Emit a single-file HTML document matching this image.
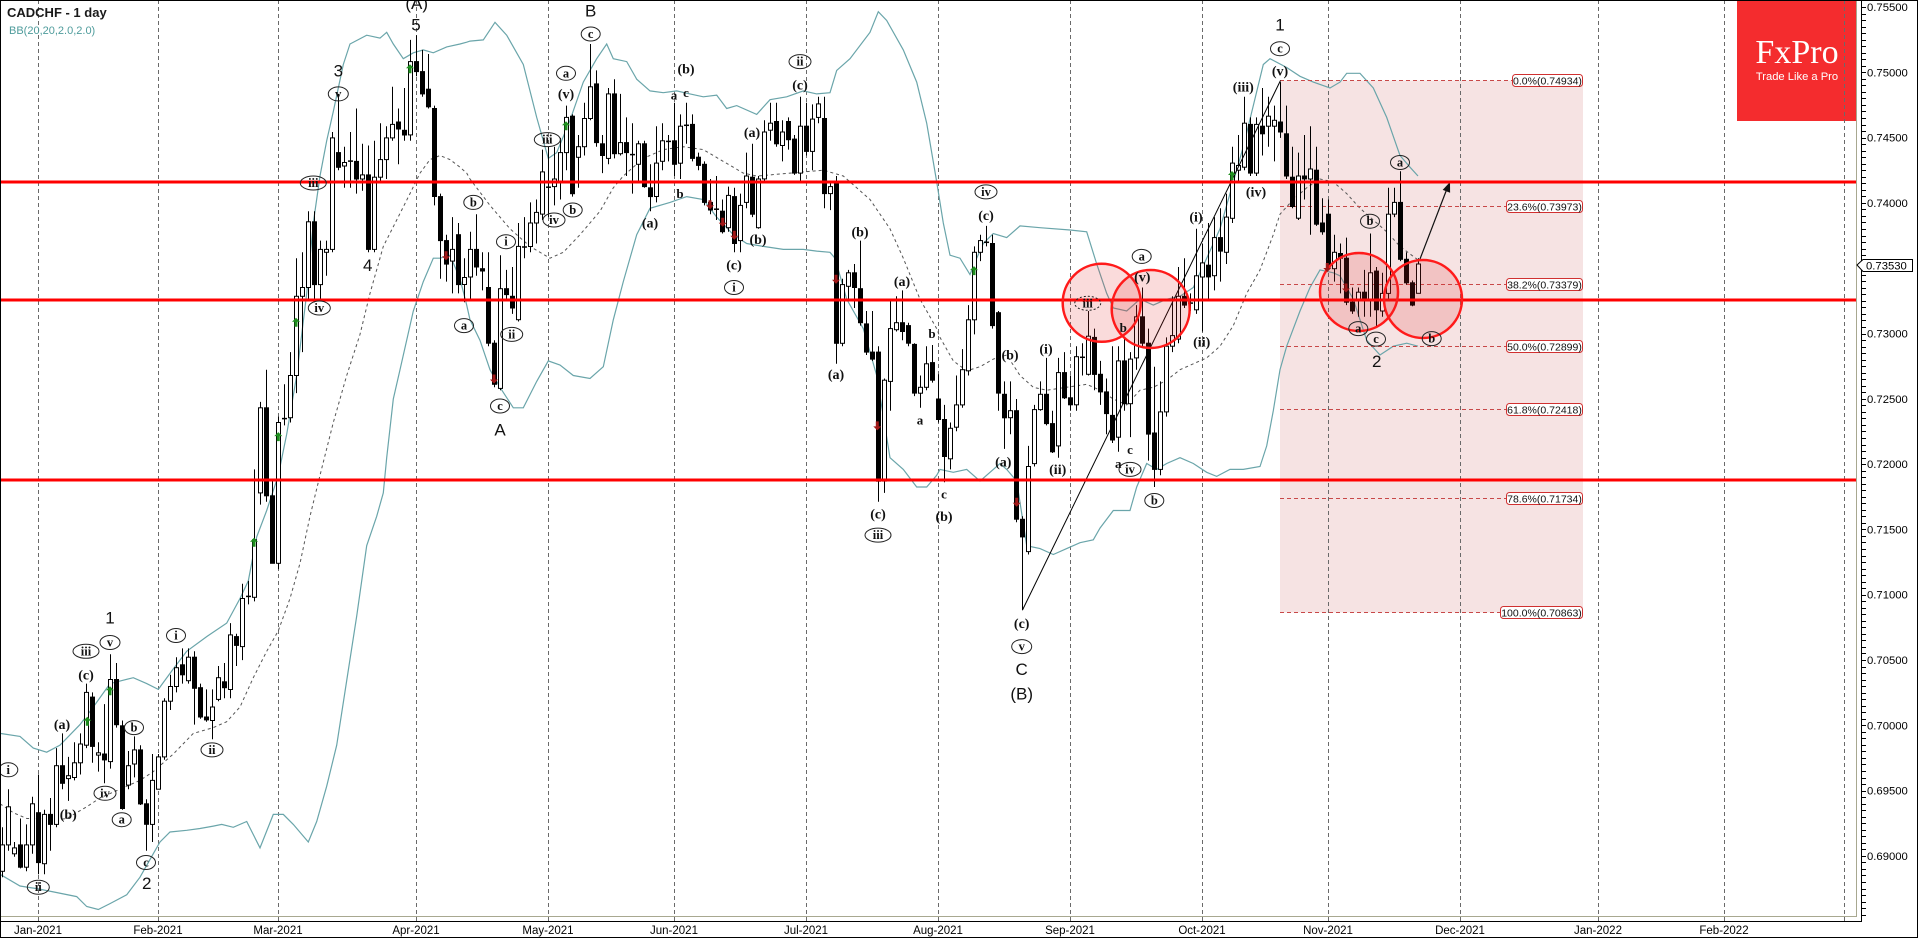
<!DOCTYPE html>
<html><head><meta charset="utf-8">
<style>
html,body{margin:0;padding:0;background:#fff;width:1918px;height:938px;overflow:hidden}
svg{display:block}
.N{font-family:"Liberation Sans",sans-serif;font-size:17px;fill:#111;text-anchor:middle}
.P{font-family:"Liberation Serif",serif;font-weight:bold;font-size:14px;fill:#111;text-anchor:middle}
.S{font-family:"Liberation Serif",serif;font-weight:bold;font-size:13px;fill:#111;text-anchor:middle}
.C text{font-family:"Liberation Serif",serif;font-weight:bold;font-size:12.5px;fill:#111;text-anchor:middle}
.C ellipse{fill:none;stroke:#222;stroke-width:1}
.ax{font-family:"Liberation Sans",sans-serif;font-size:11.3px;fill:#000}
.dt{font-family:"Liberation Sans",sans-serif;font-size:11.5px;fill:#000;text-anchor:middle}
.fl{font-family:"Liberation Sans",sans-serif;font-size:10.5px;fill:#111;text-anchor:middle}
</style></head><body>
<svg id="s" width="1918" height="938" viewBox="0 0 1918 938" xmlns="http://www.w3.org/2000/svg">
<rect x="0" y="0" width="1918" height="938" fill="#fff"/>
<!-- fib rectangle -->
<rect x="1280" y="80.5" width="303" height="532" fill="#f6e3e3"/>
<!-- logo -->
<rect x="1737" y="0" width="120" height="121" fill="#f42c2e"/>
<text x="1797" y="63" font-family="Liberation Serif, serif" font-size="34" fill="#fff" text-anchor="middle">FxPro</text>
<text x="1797" y="80" font-family="Liberation Sans, sans-serif" font-size="11.2" fill="#fff" text-anchor="middle">Trade Like a Pro</text>
<!-- grid -->
<g stroke="#6a6a6a" stroke-width="1" stroke-dasharray="4,3">
<line x1="38.5" y1="0" x2="38.5" y2="921"/>
<line x1="158.5" y1="0" x2="158.5" y2="921"/>
<line x1="278.5" y1="0" x2="278.5" y2="921"/>
<line x1="416.5" y1="0" x2="416.5" y2="921"/>
<line x1="548.5" y1="0" x2="548.5" y2="921"/>
<line x1="674.5" y1="0" x2="674.5" y2="921"/>
<line x1="806.5" y1="0" x2="806.5" y2="921"/>
<line x1="938.5" y1="0" x2="938.5" y2="921"/>
<line x1="1070.5" y1="0" x2="1070.5" y2="921"/>
<line x1="1202.5" y1="0" x2="1202.5" y2="921"/>
<line x1="1328.5" y1="0" x2="1328.5" y2="921"/>
<line x1="1460.5" y1="0" x2="1460.5" y2="921"/>
<line x1="1598.5" y1="0" x2="1598.5" y2="921"/>
<line x1="1724.5" y1="0" x2="1724.5" y2="921"/>
<line x1="1844.5" y1="0" x2="1844.5" y2="921"/>
</g>
<g id="bands"></g>
<!-- fib dashed lines -->
<g stroke="#c84848" stroke-width="1" stroke-dasharray="4,3">
<line x1="1280" y1="80.5" x2="1512" y2="80.5"/>
<line x1="1280" y1="206.5" x2="1506" y2="206.5"/>
<line x1="1280" y1="284.5" x2="1506" y2="284.5"/>
<line x1="1280" y1="346.5" x2="1506" y2="346.5"/>
<line x1="1280" y1="409.5" x2="1506" y2="409.5"/>
<line x1="1280" y1="498.5" x2="1506" y2="498.5"/>
<line x1="1280" y1="612.5" x2="1500" y2="612.5"/>
</g>
<g fill="#fff" stroke="#d03030" stroke-width="1">
<rect x="1512.5" y="74.5" width="70" height="12" rx="3"/>
<rect x="1506.5" y="200.5" width="76" height="12" rx="3"/>
<rect x="1506.5" y="278.5" width="76" height="12" rx="3"/>
<rect x="1506.5" y="340.5" width="76" height="12" rx="3"/>
<rect x="1506.5" y="403.5" width="76" height="12" rx="3"/>
<rect x="1506.5" y="492.5" width="76" height="12" rx="3"/>
<rect x="1500.5" y="606.5" width="82" height="12" rx="3"/>
</g>
<text class="fl" x="1547.5" y="84.5">0.0%(0.74934)</text>
<text class="fl" x="1544.5" y="210.5">23.6%(0.73973)</text>
<text class="fl" x="1544.5" y="288.5">38.2%(0.73379)</text>
<text class="fl" x="1544.5" y="350.5">50.0%(0.72899)</text>
<text class="fl" x="1544.5" y="413.5">61.8%(0.72418)</text>
<text class="fl" x="1544.5" y="502.5">78.6%(0.71734)</text>
<text class="fl" x="1541.5" y="616.5">100.0%(0.70863)</text>
<g id="candles"></g>
<!-- trend line and arrow -->
<line x1="1022.5" y1="610" x2="1280.5" y2="80.5" stroke="#000" stroke-width="1"/>
<line x1="1420" y1="259" x2="1446.5" y2="190" stroke="#111" stroke-width="1.2"/>
<polygon points="1450,182 1450.1,192.7 1442.7,189.9" fill="#111"/>
<!-- red horizontal lines -->
<g stroke="#ff0000" stroke-width="3">
<line x1="0" y1="182" x2="1856" y2="182"/>
<line x1="0" y1="300" x2="1856" y2="300"/>
<line x1="0" y1="480" x2="1856" y2="480"/>
</g>
<!-- red circles -->
<g fill="rgba(225,40,40,0.17)" stroke="#ff1a1a" stroke-width="2.5">
<circle cx="1101.7" cy="302.8" r="39"/>
<circle cx="1150.7" cy="309" r="39"/>
<circle cx="1359" cy="292" r="39"/>
<circle cx="1423" cy="299" r="39"/>
</g>
<g id="arrows"></g>
<!-- big labels -->
<text class="N" x="416.7" y="9">(A)</text>
<text class="N" x="416" y="30.6">5</text>
<text class="N" x="338.3" y="76.4">3</text>
<text class="N" x="367.7" y="271.2">4</text>
<text class="N" x="110" y="623.3">1</text>
<text class="N" x="146.7" y="889">2</text>
<text class="N" x="590.7" y="16.6">B</text>
<text class="N" x="500" y="435.5">A</text>
<text class="N" x="1021.7" y="674.9">C</text>
<text class="N" x="1021.7" y="699.5">(B)</text>
<text class="N" x="1280" y="30.6">1</text>
<text class="N" x="1376.7" y="366.9">2</text>
<!-- circled labels -->
<g class="C">
<ellipse cx="338.3" cy="93.9" rx="10" ry="7"/><text x="338.3" y="97.9">v</text>
<ellipse cx="313.3" cy="183" rx="13" ry="7"/><text x="313.3" y="187">iii</text>
<ellipse cx="319.3" cy="308" rx="11" ry="7"/><text x="319.3" y="312">iv</text>
<ellipse cx="473.3" cy="202.4" rx="9.5" ry="7"/><text x="473.3" y="206.4">b</text>
<ellipse cx="464" cy="325.6" rx="9.5" ry="7"/><text x="464" y="329.6">a</text>
<ellipse cx="110" cy="642.5" rx="10" ry="7"/><text x="110" y="646.5">v</text>
<ellipse cx="86" cy="651.3" rx="13" ry="7"/><text x="86" y="655.3">iii</text>
<ellipse cx="134" cy="727.6" rx="9.5" ry="7"/><text x="134" y="731.6">b</text>
<ellipse cx="105" cy="793.3" rx="11" ry="7"/><text x="105" y="797.3">iv</text>
<ellipse cx="121.7" cy="819.7" rx="9.5" ry="7"/><text x="121.7" y="823.7">a</text>
<ellipse cx="8.3" cy="769.8" rx="9.5" ry="7"/><text x="8.3" y="773.8">i</text>
<ellipse cx="38.3" cy="887.2" rx="11" ry="7"/><text x="38.3" y="891.2">ii</text>
<ellipse cx="146" cy="862.5" rx="9.5" ry="7"/><text x="146" y="866.5">c</text>
<ellipse cx="176" cy="635.5" rx="9.5" ry="7"/><text x="176" y="639.5">i</text>
<ellipse cx="212" cy="749.9" rx="11" ry="7"/><text x="212" y="753.9">ii</text>
<ellipse cx="590.7" cy="34" rx="9.5" ry="7"/><text x="590.7" y="38">c</text>
<ellipse cx="566" cy="73.3" rx="9.5" ry="7"/><text x="566" y="77.3">a</text>
<ellipse cx="547.3" cy="139.6" rx="13" ry="7"/><text x="547.3" y="143.6">iii</text>
<ellipse cx="554" cy="220" rx="11" ry="7"/><text x="554" y="224">iv</text>
<ellipse cx="572.7" cy="210" rx="9.5" ry="7"/><text x="572.7" y="214">b</text>
<ellipse cx="506" cy="241.7" rx="9.5" ry="7"/><text x="506" y="245.7">i</text>
<ellipse cx="511.7" cy="334.4" rx="11" ry="7"/><text x="511.7" y="338.4">ii</text>
<ellipse cx="500" cy="406" rx="9.5" ry="7"/><text x="500" y="410">c</text>
<ellipse cx="734" cy="287.5" rx="9.5" ry="7"/><text x="734" y="291.5">i</text>
<ellipse cx="800" cy="61.6" rx="11" ry="7"/><text x="800" y="65.6">ii</text>
<ellipse cx="878" cy="535.1" rx="13" ry="7"/><text x="878" y="539.1">iii</text>
<ellipse cx="986" cy="191.9" rx="11" ry="7"/><text x="986" y="195.9">iv</text>
<ellipse cx="1021.7" cy="646.6" rx="10" ry="7"/><text x="1021.7" y="650.6">v</text>
<ellipse cx="1087.7" cy="303.3" rx="13" ry="7" stroke-dasharray="2,2"/><text x="1087.7" y="307.3">iii</text>
<ellipse cx="1141.7" cy="256.4" rx="9.5" ry="7"/><text x="1141.7" y="260.4">a</text>
<ellipse cx="1130" cy="469.4" rx="11" ry="7"/><text x="1130" y="473.4">iv</text>
<ellipse cx="1154.3" cy="500.5" rx="9.5" ry="7"/><text x="1154.3" y="504.5">b</text>
<ellipse cx="1280" cy="48.7" rx="9.5" ry="7"/><text x="1280" y="52.7">c</text>
<ellipse cx="1400" cy="162.5" rx="9.5" ry="7"/><text x="1400" y="166.5">a</text>
<ellipse cx="1370" cy="221.2" rx="9.5" ry="7"/><text x="1370" y="225.2">b</text>
<ellipse cx="1358.3" cy="328.6" rx="9.5" ry="7"/><text x="1358.3" y="332.6">a</text>
<ellipse cx="1376" cy="339.1" rx="9.5" ry="7"/><text x="1376" y="343.1">c</text>
<ellipse cx="1431.7" cy="338.6" rx="9.5" ry="7"/><text x="1431.7" y="342.6">b</text>
</g>
<!-- parenthesized labels -->
<text class="P" x="86" y="679.3">(c)</text>
<text class="P" x="62" y="729.1">(a)</text>
<text class="P" x="68.3" y="818.9">(b)</text>
<text class="P" x="566" y="98.4">(v)</text>
<text class="P" x="686" y="73.7">(b)</text>
<text class="P" x="650" y="227.5">(a)</text>
<text class="P" x="752" y="137.1">(a)</text>
<text class="P" x="758" y="243.9">(b)</text>
<text class="P" x="734" y="269.7">(c)</text>
<text class="P" x="800" y="89.6">(c)</text>
<text class="P" x="860" y="236.3">(b)</text>
<text class="P" x="836" y="378.8">(a)</text>
<text class="P" x="902" y="286.1">(a)</text>
<text class="P" x="878" y="518.5">(c)</text>
<text class="P" x="944" y="520.8">(b)</text>
<text class="P" x="986" y="219.8">(c)</text>
<text class="P" x="1010" y="359.5">(b)</text>
<text class="P" x="1003.3" y="466.3">(a)</text>
<text class="P" x="1021.7" y="628.2">(c)</text>
<text class="P" x="1046" y="353.6">(i)</text>
<text class="P" x="1057.7" y="473.9">(ii)</text>
<text class="P" x="1142.3" y="281.5">(v)</text>
<text class="P" x="1196" y="221.6">(i)</text>
<text class="P" x="1201.7" y="346.6">(ii)</text>
<text class="P" x="1243.3" y="91.3">(iii)</text>
<text class="P" x="1256" y="196.4">(iv)</text>
<text class="P" x="1280" y="75.5">(v)</text>
<!-- small labels -->
<text class="S" x="674" y="99.5">a</text>
<text class="S" x="686" y="97.2">c</text>
<text class="S" x="680" y="198.1">b</text>
<text class="S" x="932" y="337.8">b</text>
<text class="S" x="920" y="424.6">a</text>
<text class="S" x="944" y="498.5">c</text>
<text class="S" x="1123.3" y="331.9">b</text>
<text class="S" x="1130" y="454">c</text>
<text class="S" x="1118.3" y="468">a</text>
<!-- title -->
<text x="7" y="17" font-family="Liberation Sans, sans-serif" font-weight="bold" font-size="13" fill="#1a1a1a">CADCHF - 1 day</text>
<text x="9" y="34" font-family="Liberation Sans, sans-serif" font-size="11" fill="#4f9c9c">BB(20,20,2.0,2.0)</text>
<!-- frame -->
<g stroke="#a8a890" stroke-width="1">
<line x1="1856.5" y1="0" x2="1856.5" y2="917"/>
<line x1="0" y1="916.5" x2="1857" y2="916.5"/>
</g>
<g stroke="#000" stroke-width="1">
<line x1="1861.5" y1="0" x2="1861.5" y2="922"/>
<line x1="0" y1="921.5" x2="1862" y2="921.5"/>
</g>
<g id="ticks"></g>
<!-- price labels -->
<text class="ax" x="1867" y="11">0.75500</text>
<text class="ax" x="1867" y="76.3">0.75000</text>
<text class="ax" x="1867" y="141.6">0.74500</text>
<text class="ax" x="1867" y="206.9">0.74000</text>
<text class="ax" x="1867" y="272.2">0.73500</text>
<text class="ax" x="1867" y="337.5">0.73000</text>
<text class="ax" x="1867" y="402.8">0.72500</text>
<text class="ax" x="1867" y="468.1">0.72000</text>
<text class="ax" x="1867" y="533.4">0.71500</text>
<text class="ax" x="1867" y="598.7">0.71000</text>
<text class="ax" x="1867" y="664">0.70500</text>
<text class="ax" x="1867" y="729.3">0.70000</text>
<text class="ax" x="1867" y="794.6">0.69500</text>
<text class="ax" x="1867" y="859.9">0.69000</text>
<polygon points="1857,265 1863,259.5 1912.5,259.5 1912.5,271.5 1863,271.5" fill="#fff" stroke="#000" stroke-width="1"/>
<text class="ax" x="1866" y="269.5">0.73530</text>
<!-- date labels -->
<text class="dt" x="38" y="934">Jan-2021</text>
<text class="dt" x="158" y="934">Feb-2021</text>
<text class="dt" x="278" y="934">Mar-2021</text>
<text class="dt" x="416" y="934">Apr-2021</text>
<text class="dt" x="548" y="934">May-2021</text>
<text class="dt" x="674" y="934">Jun-2021</text>
<text class="dt" x="806" y="934">Jul-2021</text>
<text class="dt" x="938" y="934">Aug-2021</text>
<text class="dt" x="1070" y="934">Sep-2021</text>
<text class="dt" x="1202" y="934">Oct-2021</text>
<text class="dt" x="1328" y="934">Nov-2021</text>
<text class="dt" x="1460" y="934">Dec-2021</text>
<text class="dt" x="1598" y="934">Jan-2022</text>
<text class="dt" x="1724" y="934">Feb-2022</text>
<rect x="0.5" y="0.5" width="1917" height="937" fill="none" stroke="#000" stroke-width="1"/>
</svg>
<script>
(function(){
const NS='http://www.w3.org/2000/svg';
function el(t,a,p){const e=document.createElementNS(NS,t);for(const k in a)e.setAttribute(k,a[k]);p.appendChild(e);return e;}
const K=1/1.7043;
const A=[
0,1440,1485,1410,1495, 0,1375,1440,1345,1450, 0,1445,1455,1435,1460, 1,1440,1478,1395,1480,
0,1440,1478,1405,1485, 0,1370,1440,1358,1455, 1,1385,1470,1320,1490, 0,1388,1472,1380,1490,
1,1388,1405,1360,1450, 0,1305,1405,1275,1410, 1,1305,1335,1250,1345, 0,1322,1327,1290,1365,
0,1300,1325,1265,1330, 0,1268,1300,1250,1320, 0,1180,1270,1165,1275, 1,1188,1272,1180,1300,
0,1283,1287,1265,1315, 1,1285,1295,1200,1335, 0,1158,1298,1115,1310, 1,1158,1235,1130,1240,
1,1237,1378,1228,1380, 0,1305,1338,1280,1345, 0,1278,1302,1255,1325, 1,1278,1370,1270,1372,
1,1370,1405,1362,1450, 0,1330,1405,1285,1435, 0,1290,1345,1285,1345, 0,1195,1290,1190,1295,
0,1170,1195,1150,1210, 0,1138,1170,1120,1180, 1,1133,1150,1105,1165, 0,1120,1160,1105,1165,
1,1120,1173,1110,1235, 1,1172,1222,1165,1225, 1,1222,1227,1175,1230, 0,1205,1228,1175,1260,
0,1155,1192,1135,1195, 1,1162,1172,1130,1190, 0,1082,1175,1062,1190, 1,1085,1100,1080,1135,
0,1020,1102,995,1125, 0,1015,1018,990,1030, 0,920,1018,800,1025, 0,695,840,685,860,
1,695,845,630,855, 1,845,960,820,960, 0,720,960,710,970, 0,712,715,655,725,
0,640,712,600,720, 0,505,640,440,670, 0,490,505,430,600, 0,378,490,360,512,
1,378,485,360,515, 0,425,485,410,510, 0,425,430,410,470, 0,235,425,225,430,
1,260,285,160,290, 0,277,283,250,320, 0,273,276,225,320, 1,275,305,185,330,
0,298,305,245,325, 1,298,425,248,430, 0,302,425,240,430, 0,272,302,210,310,
0,235,272,215,305, 0,212,235,148,240, 1,208,220,185,280, 1,222,230,150,240,
0,105,230,68,240, 1,105,122,60,130, 1,122,160,85,165, 1,152,182,92,185,
1,185,335,180,350, 1,335,410,330,475, 1,410,450,400,480, 0,425,445,370,500,
1,400,485,380,500, 0,473,485,440,515, 0,425,472,395,510, 1,425,455,365,470];
const B=[
1,458,462,430,495, 1,490,585,430,590, 1,585,655,580,660, 0,492,662,435,665,
1,492,502,460,510, 1,505,525,455,535, 0,420,545,380,548, 0,420,422,370,440,
0,380,420,345,430, 0,362,380,340,415, 0,293,365,255,375, 0,318,320,250,370,
0,305,318,250,350, 0,260,310,235,340, 0,200,260,180,290, 1,198,330,195,335,
0,250,268,230,320, 0,202,250,175,265, 0,148,202,75,205, 1,143,243,120,250,
1,245,265,230,295, 0,160,270,150,280, 1,160,262,135,270, 0,243,262,160,265,
1,243,260,200,300, 0,262,265,210,330, 0,245,280,240,310, 1,245,318,240,320,
1,320,335,280,360, 0,278,335,215,345, 0,240,275,210,290, 0,240,242,230,275,
1,240,280,175,300, 0,215,278,195,305, 0,212,215,175,245, 1,212,270,195,275,
1,268,282,260,290, 1,280,345,275,350, 1,345,358,305,365, 0,355,358,300,375,
1,360,395,340,398, 0,333,388,318,395, 1,335,415,320,430, 0,350,410,330,430,
0,300,345,260,355, 1,302,365,245,370, 0,305,388,300,390, 0,225,305,205,310,
0,210,222,175,240, 1,207,245,175,250, 0,225,248,205,275, 1,207,238,200,255,
1,237,295,230,298, 0,215,295,165,310, 1,215,258,175,265, 0,203,258,178,290,
0,177,200,165,210, 1,202,330,165,355, 0,318,330,308,358, 1,310,585,300,620,
0,485,585,475,590, 0,465,488,460,510, 1,465,490,450,525, 1,492,550,410,555,
1,552,600,530,605, 1,600,612,530,615, 1,600,820,590,855, 0,648,820,645,840,
0,560,650,510,700, 0,550,562,505,565, 1,550,565,495,580, 1,555,585,550,590,
1,587,670,585,675, 0,660,670,640,695, 0,620,660,590,665, 1,618,648,588,652,
1,680,715,638,720, 1,715,778,690,822];
const C=[
0,730,782,720,800, 0,690,728,640,735, 0,630,690,595,695, 0,545,632,520,640,
0,430,545,420,570, 0,410,430,400,445, 0,412,414,385,420, 1,415,555,400,560,
1,533,670,530,700, 1,672,712,650,765, 0,700,712,650,740, 1,700,885,680,890,
1,885,915,880,1040, 0,795,940,760,945, 0,698,790,690,795, 0,672,698,650,700,
1,672,722,610,725, 1,722,770,700,772, 0,635,760,610,780, 1,635,678,600,680,
1,678,690,640,700, 0,608,690,590,700, 0,608,610,585,640, 0,573,638,530,640,
1,575,638,560,665, 1,638,668,615,690, 1,668,705,645,740, 1,708,750,590,755,
0,615,745,590,770, 1,615,688,575,700, 0,612,688,600,745, 0,540,610,520,630,
1,540,585,490,590, 1,585,740,560,785, 1,738,800,625,830, 0,702,800,650,810,
0,590,702,575,710, 0,572,590,505,600, 0,505,578,455,585, 1,505,520,440,525,
0,515,518,500,530, 0,470,528,390,535, 0,448,472,415,565, 1,452,472,380,510,
0,405,470,370,495, 1,405,428,355,480, 0,370,430,330,450, 0,278,372,250,380,
0,282,290,230,310, 0,210,285,165,290, 1,212,295,200,300, 0,212,295,200,300,
1,215,228,150,265, 0,198,215,165,250, 0,205,215,180,275, 1,208,225,140,235,
1,228,300,180,305, 1,302,352,250,355, 0,300,372,260,375, 1,300,305,230,340,
0,288,305,215,400, 1,290,382,250,385, 1,380,395,338,400, 1,365,455,340,460,
0,430,458,400,480, 1,432,440,415,500, 1,440,515,405,520, 1,515,530,490,535,
0,498,512,490,540, 1,498,512,460,540, 0,465,512,398,540, 1,462,528,455,558,
0,500,530,465,540, 0,365,500,320,510, 0,345,365,320,370, 1,345,442,292,445,
1,442,482,430,485, 1,482,520,478,522, 0,450,500,440,500];
const cg=document.getElementById('candles');
function drawSeg(i0,arr){
 for(let k=0;k<arr.length;k+=5){
  const i=i0+k/5,x=38+6*i,blk=arr[k],bt=arr[k+1]*K,bb=arr[k+2]*K,wt=arr[k+3]*K,wb=arr[k+4]*K;
  el('line',{x1:x+.5,y1:wt.toFixed(1),x2:x+.5,y2:wb.toFixed(1),stroke:'#000','stroke-width':1},cg);
  const h=bb-bt;
  if(h<1.8){const ym=((bt+bb)/2).toFixed(1);el('line',{x1:x-2,y1:ym,x2:x+3,y2:ym,stroke:'#000','stroke-width':1.5},cg);}
  else el('rect',{x:x-1.5,y:bt.toFixed(1),width:4,height:h.toFixed(1),fill:blk?'#000':'#fff',stroke:'#000','stroke-width':1},cg);
 }
}
drawSeg(-6,A);drawSeg(74,B);drawSeg(152,C);

const f6=o=>o/3,f7=o=>470+o/3,f8=o=>940+o/3;
function pts(segs){const s=[];for(const [fx,arr] of segs){for(let k=0;k<arr.length;k+=2)s.push(fx(arr[k]).toFixed(1)+','+(arr[k+1]*K).toFixed(1));}return s.join(' ');}
const up=[[f6,[0,1250,60,1255,100,1275,140,1282,180,1270,240,1235,280,1205,330,1165,400,1155,440,1165,475,1175,520,1140,560,1110,620,1085,680,1062,720,1020,745,990,770,915,800,870,835,810,860,740,890,640,920,500,940,380,960,300,980,240,1000,190,1030,110,1050,75,1100,60,1140,65,1160,55,1180,75,1210,100,1240,90,1270,85,1300,90,1340,80,1380,75,1400,72]],
[f7,[0,70,40,68,75,38,110,60,160,110,200,200,235,270,260,260,300,205,340,140,380,100,410,75,430,100,470,105,500,135,540,155,580,158,620,155,660,160,700,165,740,162,770,185,800,180,860,195,900,170,950,165,1000,155,1040,160,1080,158,1100,120,1140,100,1200,55,1225,20,1250,35,1300,85,1340,140,1370,210,1400,310,1420,380]],
[f8,[30,435,60,440,90,468,110,440,130,415,160,398,200,405,240,385,300,388,390,392,440,395,470,450,500,500,520,525,560,530,600,510,640,520,680,510,720,505,760,490,800,440,840,390,880,310,910,250,940,180,970,110,990,100,1040,115,1080,130,1120,140,1170,150,1200,140,1220,125,1260,125,1300,150,1340,200,1380,265,1410,285,1434,300]]];
const mid=[[f6,[0,1370,40,1385,80,1395,115,1395,160,1398,200,1395,260,1375,300,1360,340,1350,380,1340,420,1330,460,1315,490,1300,520,1285,580,1250,640,1240,680,1230,720,1205,760,1155,800,1110,835,1075,870,1020,900,960,930,880,960,810,1000,720,1040,640,1080,570,1110,500,1150,420,1190,375,1230,330,1260,295,1290,272,1320,265,1350,272,1380,285,1400,295]],
[f7,[0,305,60,350,120,390,180,420,240,440,280,430,330,400,390,360,430,320,460,300,520,270,580,255,640,250,700,255,760,275,820,295,860,300,900,298,960,295,1020,292,1060,290,1120,300,1200,340,1260,390,1300,440,1350,510,1400,560]],
[f8,[0,575,40,615,80,632,120,625,160,612,200,605,240,640,280,660,320,665,380,660,440,655,480,665,520,680,560,690,600,665,640,660,680,648,720,630,760,620,800,610,840,590,880,555,920,500,960,460,1000,400,1020,365,1060,340,1100,320,1140,305,1180,310,1220,330,1260,355,1300,375,1340,395,1380,420,1434,443]]];
const low=[[f6,[0,1490,60,1510,115,1515,160,1520,230,1528,260,1545,295,1550,330,1540,380,1525,420,1495,460,1455,480,1435,510,1418,560,1415,600,1412,640,1408,665,1405,700,1410,740,1400,780,1445,820,1388,850,1388,880,1405,910,1425,925,1435,950,1400,980,1340,1010,1270,1040,1160,1070,1050,1100,930,1130,880,1150,840,1160,780,1180,680,1200,630,1240,530,1270,480,1300,440,1320,440,1350,435,1380,475,1400,520]],
[f7,[0,545,30,580,60,630,90,660,130,695,160,695,200,650,235,615,270,622,310,640,360,645,400,625,430,545,460,480,500,400,540,355,600,345,650,335,700,340,740,370,790,400,830,415,880,420,940,425,1000,425,1040,428,1080,430,1095,440,1130,510,1180,560,1220,640,1260,780,1300,800,1340,830,1370,830,1400,810]],
[f8,[0,800,40,805,80,800,120,820,160,800,180,790,200,800,230,820,260,930,300,935,340,945,380,935,420,925,460,920,480,900,520,870,570,870,590,830,620,790,650,800,680,790,720,780,760,790,800,805,830,812,870,800,910,800,960,795,980,760,1000,700,1020,630,1040,590,1080,530,1110,490,1140,460,1180,465,1200,470,1240,510,1280,580,1320,605,1360,590,1400,585,1434,590]]];
const bg=document.getElementById('bands');
el('polyline',{points:pts(up),fill:'none',stroke:'#6aa5aa','stroke-width':1.2},bg);
el('polyline',{points:pts(low),fill:'none',stroke:'#6aa5aa','stroke-width':1.2},bg);
el('polyline',{points:pts(mid),fill:'none',stroke:'#555','stroke-width':1,'stroke-dasharray':'3,3'},bg);

const ag=document.getElementById('arrows');
function upA(x,y){el('polygon',{points:`${x},${y-5} ${x-4},${y-1} ${x-1.5},${y-1} ${x-1.5},${y+4} ${x+1.5},${y+4} ${x+1.5},${y-1} ${x+4},${y-1}`,fill:'#1f8f1f'},ag);}
function dnA(x,y){el('polygon',{points:`${x},${y+5} ${x-4},${y+1} ${x-1.5},${y+1} ${x-1.5},${y-4} ${x+1.5},${y-4} ${x+1.5},${y+1} ${x+4},${y+1}`,fill:'#a01818'},ag);}
[[87.3,721.7],[110,691.2],[254,542.7],[278.3,437.1],[296,322.7],[410,69.2],[566,126.2],[974,271.1],[1232,176]].forEach(p=>upA(p[0],p[1]));
[[446,255.2],[494,378.5],[710,204.2],[722.7,221.8],[734.3,234.7],[836,278.7],[877.3,425.4],[1016.7,501.7],[1327.3,267],[1346,287.5]].forEach(p=>dnA(p[0],p[1]));

const tg=document.getElementById('ticks');
for(let p=0.6855;p<=0.7556;p+=0.0005){const y=7+(0.755-p)*13060;if(y<0||y>916)continue;const yy=Math.round(y)+.5;el('line',{x1:1862,y1:yy,x2:1866,y2:yy,stroke:'#000','stroke-width':1},tg);}
})();
</script>
</body></html>
